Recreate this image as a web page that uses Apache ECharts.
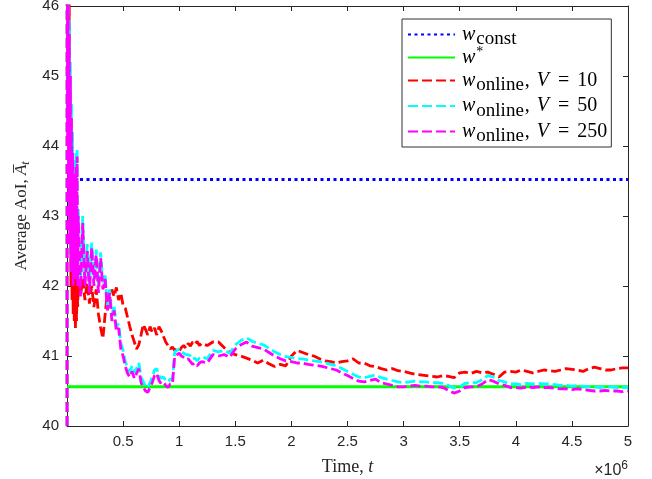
<!DOCTYPE html>
<html>
<head>
<meta charset="utf-8">
<script src="https://cdn.jsdelivr.net/npm/echarts@6/dist/echarts.min.js"></script>
<style>
html,body{margin:0;padding:0;background:#fff;}
#chart{width:652px;height:479px;}
</style>
</head>
<body>
<div id="chart"></div>
<script>
// ---- data (time in units of 10^6) ----
var tEarly = [0, 0.002, 0.005, 0.01, 0.015, 0.02, 0.025, 0.03, 0.035, 0.04, 0.045, 0.05, 0.055, 0.06, 0.065, 0.07, 0.075, 0.08, 0.085, 0.09, 0.095, 0.1];
var tMid = [0.12,0.14,0.16,0.18,0.2,0.22,0.24,0.26,0.28,0.3,0.32,0.34,0.36,0.38,0.4,0.42,0.44,0.46,0.48,0.5,0.52,0.54,0.56,0.58,0.6,0.62,0.64,0.66,0.68,0.7,0.72,0.74,0.76,0.78,0.8,0.82,0.84,0.86,0.88,0.9,0.92,0.94,0.96,0.98,1,1.02,1.04,1.06,1.08,1.1,1.12,1.14,1.16,1.18,1.2];
var tLate = [1.25,1.3,1.35,1.4,1.45,1.5,1.55,1.6,1.65,1.7,1.75,1.8,1.85,1.9,1.95,2,2.05,2.1,2.15,2.2,2.25,2.3,2.35,2.4,2.45,2.5,2.55,2.6,2.65,2.7,2.75,2.8,2.85,2.9,2.95,3,3.05,3.1,3.15,3.2,3.25,3.3,3.35,3.4,3.45,3.5,3.55,3.6,3.65,3.7,3.75,3.8,3.85,3.9,3.95,4,4.05,4.1,4.15,4.2,4.25,4.3,4.35,4.4,4.45,4.5,4.55,4.6,4.65,4.7,4.75,4.8,4.85,4.9,4.95,5];

var wConstValue = 43.52;
var wStarValue = 40.56;

var v10Early = [33, 56, 45.5, 47, 43.5, 46.2, 42.8, 44.8, 42.0, 43.5, 41.8, 43.0, 41.6, 42.4, 41.5, 42.2, 41.4, 41.9, 41.5, 42.1, 41.7, 42.0];
var v10Mid = [41.85,42.1,41.8,42.05,41.75,42.0,41.7,41.95,41.6,41.4,
  41.25,41.6,41.9,41.82,41.95,41.85,41.98,41.8,41.9,41.72,
  41.68,41.55,41.42,41.3,41.2,41.1,41.16,41.3,41.45,41.38,
  41.3,41.42,41.34,41.4,41.3,41.42,41.36,41.28,41.2,41.15,
  41.1,41.13,41.08,41.1,41.07,41.12,41.15,41.11,41.18,41.14,
  41.2,41.17,41.21,41.15,41.18];
var v10Late = [41.15,41.2,41.2,41.12,41.05,41.02,41.0,40.97,40.94,40.9,
  40.94,40.89,40.85,40.88,40.86,41.0,41.08,41.05,41.02,41.0,
  40.96,40.93,40.92,40.9,40.92,40.93,40.96,40.9,40.9,40.86,
  40.85,40.82,40.8,40.82,40.79,40.78,40.76,40.74,40.73,40.72,
  40.71,40.7,40.72,40.71,40.69,40.76,40.77,40.75,40.78,40.76,
  40.77,40.74,40.7,40.77,40.78,40.77,40.8,40.78,40.76,40.78,
  40.8,40.79,40.78,40.8,40.82,40.81,40.8,40.78,40.82,40.84,
  40.82,40.8,40.8,40.82,40.83,40.83];

var v50Early = [36, 53, 44.5, 47, 43.6, 45.8, 42.9, 45.2, 42.5, 44.6, 42.6, 44.2, 42.3, 43.8, 42.5, 43.6, 42.3, 43.9, 42.4, 43.95, 42.2, 43.1];
var v50Mid = [42.0,43.0,42.1,42.6,42.0,42.62,42.1,42.52,42.0,42.48,
  42.05,42.15,41.72,41.95,41.58,41.72,41.42,41.46,41.18,41.08,
  40.92,40.82,40.77,40.86,40.76,40.82,40.9,40.7,40.63,40.57,
  40.55,40.62,40.7,40.8,40.82,40.72,40.68,40.7,40.65,40.63,
  40.67,40.67,41.06,41.08,41.1,41.06,41.04,41.02,41.02,41.0,
  40.95,40.97,40.93,40.97,40.99];
var v50Late = [40.96,41.08,41.06,41.08,41.04,41.16,41.22,41.26,41.21,41.18,
  41.16,41.11,41.06,41.02,40.99,40.98,40.96,40.96,40.94,40.93,
  40.92,40.9,40.88,40.86,40.82,40.78,40.74,40.7,40.69,40.71,
  40.73,40.69,40.67,40.65,40.63,40.62,40.63,40.64,40.63,40.63,
  40.62,40.62,40.61,40.58,40.54,40.56,40.61,40.62,40.62,40.66,
  40.72,40.7,40.65,40.63,40.6,40.6,40.59,40.61,40.6,40.61,
  40.6,40.6,40.59,40.58,40.58,40.57,40.58,40.57,40.56,40.56,
  40.55,40.56,40.56,40.55,40.55,40.55];

var v250Early = [35, 52, 44.0, 46.8, 43.2, 45.6, 42.6, 45.0, 42.2, 44.4, 42.4, 43.9, 42.0, 43.6, 42.3, 43.4, 42.1, 43.7, 42.2, 43.85, 42.0, 43.0];
var v250Mid = [41.85,42.9,42.0,42.5,41.9,42.55,42.0,42.45,41.9,42.4,
  41.95,42.1,41.65,41.9,41.5,41.65,41.35,41.4,41.1,41.0,
  40.85,40.75,40.7,40.78,40.68,40.75,40.82,40.62,40.55,40.5,
  40.48,40.55,40.62,40.72,40.75,40.65,40.6,40.62,40.58,40.55,
  40.6,40.6,41.0,41.02,41.04,41.0,40.98,40.95,40.96,40.92,
  40.88,40.9,40.86,40.9,40.92];
var v250Late = [40.9,41.02,41.0,41.02,40.98,41.1,41.16,41.2,41.14,41.12,
  41.1,41.05,41.0,40.96,40.93,40.92,40.9,40.9,40.88,40.87,
  40.86,40.84,40.82,40.8,40.76,40.72,40.68,40.64,40.63,40.65,
  40.67,40.62,40.6,40.58,40.56,40.56,40.57,40.58,40.57,40.57,
  40.56,40.56,40.55,40.51,40.47,40.5,40.55,40.56,40.56,40.6,
  40.66,40.64,40.6,40.58,40.55,40.55,40.54,40.56,40.55,40.56,
  40.55,40.55,40.54,40.53,40.53,40.52,40.53,40.52,40.51,40.5,
  40.5,40.51,40.5,40.5,40.49,40.5];

var xTicks = [0, 0.5, 1, 1.5, 2, 2.5, 3, 3.5, 4, 4.5, 5]; // ×10^6
var yTicks = [40, 41, 42, 43, 44, 45, 46];
var legendNames = ['wconst', 'wstar', 'v10', 'v50', 'v250'];

// ---- build ----
var SCALE = 1e6;
var tAll = tEarly.concat(tMid, tLate);
function pairs(early, mid, late) {
  var v = early.concat(mid, late);
  return tAll.map(function (t, i) { return [t * SCALE, v[i]]; });
}
var xMax = xTicks[xTicks.length - 1] * SCALE;
var xStep = (xTicks[1] - xTicks[0]) * SCALE;

var axisColor = '#262626';
var tickFont = 'Liberation Sans';
var serif = 'Liberation Serif';

var legendRich = {
  i: { fontFamily: serif, fontStyle: 'italic', fontSize: 20, lineHeight: 23, color: '#000' },
  r: { fontFamily: serif, fontSize: 20, lineHeight: 23, color: '#000' },
  s: { fontFamily: serif, fontSize: 19, lineHeight: 13, padding: [10, 1, 0, 1], color: '#000' },
  c: { fontFamily: serif, fontSize: 20, lineHeight: 23, padding: [0, 7, 0, 0], color: '#000' },
  v: { fontFamily: serif, fontStyle: 'italic', fontSize: 20, lineHeight: 23, padding: [0, 9, 0, 0], color: '#000' },
  e: { fontFamily: serif, fontSize: 20, lineHeight: 23, padding: [0, 8, 0, 0], color: '#000' },
  p: { fontFamily: serif, fontSize: 14, lineHeight: 13, padding: [0, 0, 10, 1], color: '#000' }
};
var legendLabels = {
  wconst: '{i|w}{s|const}',
  wstar: '{i|w}{p|*}',
  v10: '{i|w}{s|online}{c|,}{v|V}{e|=}{r|10}',
  v50: '{i|w}{s|online}{c|,}{v|V}{e|=}{r|50}',
  v250: '{i|w}{s|online}{c|,}{v|V}{e|=}{r|250}'
};

var chart = echarts.init(document.getElementById('chart'), null, { renderer: 'canvas' });

var commonX = {
  type: 'value', min: 0, max: xMax, interval: xStep,
  splitLine: { show: false },
  axisLine: { show: true, onZero: false, lineStyle: { color: axisColor, width: 1 } },
  axisTick: { show: true, inside: true, length: 5, lineStyle: { color: axisColor } }
};
var commonY = {
  type: 'value', min: yTicks[0], max: yTicks[yTicks.length - 1], interval: 1,
  splitLine: { show: false },
  axisLine: { show: true, onZero: false, lineStyle: { color: axisColor, width: 1 } },
  axisTick: { show: true, inside: true, length: 5, lineStyle: { color: axisColor } }
};

var option = {
  animation: false,
  backgroundColor: '#fff',
  grid: { left: 67, right: 24, top: 6, bottom: 53, outerBoundsMode: 'none', containLabel: false },
  xAxis: [
    Object.assign({}, commonX, {
      position: 'bottom',
      name: 'Time, {it|t}',
      nameLocation: 'middle',
      nameGap: 32,
      nameTextStyle: {
        fontFamily: serif, fontSize: 18, color: axisColor,
        rich: { it: { fontFamily: serif, fontStyle: 'italic', fontSize: 18, color: axisColor } }
      },
      axisLabel: {
        show: true, margin: 8, showMinLabel: false,
        fontFamily: tickFont, fontSize: 15, color: axisColor,
        formatter: function (v) { return v === 0 ? '' : String(+(v / SCALE).toFixed(1)); }
      }
    }),
    Object.assign({}, commonX, { position: 'top', axisLabel: { show: false } })
  ],
  yAxis: [
    Object.assign({}, commonY, {
      position: 'left',
      name: 'Average AoI, {it|A\u0305}{sub|t}',
      nameLocation: 'middle',
      nameGap: 34,
      nameTextStyle: {
        fontFamily: serif, fontSize: 17, color: axisColor,
        rich: {
          it: { fontFamily: serif, fontStyle: 'italic', fontSize: 17, color: axisColor },
          sub: { fontFamily: serif, fontStyle: 'italic', fontSize: 12, padding: [8, 0, 0, 0], color: axisColor }
        }
      },
      axisLabel: { show: true, margin: 8, fontFamily: tickFont, fontSize: 15, color: axisColor }
    }),
    Object.assign({}, commonY, { position: 'right', axisLabel: { show: false } })
  ],
  legend: {
    show: true,
    orient: 'vertical',
    left: 402,
    top: 19,
    padding: [1, 4, 1, 5],
    itemGap: -3.5,
    itemWidth: 47,
    itemHeight: 10,
    backgroundColor: '#fff',
    borderColor: '#303030',
    borderWidth: 1,
    selectedMode: false,
    data: legendNames,
    itemStyle: { opacity: 0 },
    textStyle: { rich: legendRich, padding: [0, 0, 0, 2] },
    formatter: function (name) { return legendLabels[name]; }
  },
  graphic: [
    {
      type: 'text', right: 24, top: 460,
      style: {
        text: '{a|\u00d710}{b|6}',
        rich: {
          a: { fontFamily: tickFont, fontSize: 16, fill: axisColor, lineHeight: 18 },
          b: { fontFamily: tickFont, fontSize: 12, fill: axisColor, padding: [0, 0, 9, 0] }
        }
      }
    }
  ],
  series: [
    {
      name: 'wconst', type: 'line', symbol: 'none', z: 2,
      data: [[0, wConstValue], [xMax, wConstValue]],
      lineStyle: { color: '#0000ff', width: 3, type: [3, 3.5] },
      itemStyle: { color: '#0000ff' }
    },
    {
      name: 'wstar', type: 'line', symbol: 'none', z: 2,
      data: [[0, wStarValue], [xMax, wStarValue]],
      lineStyle: { color: '#00ff00', width: 3, type: 'solid' },
      itemStyle: { color: '#00ff00' }
    },
    {
      name: 'v10', type: 'line', symbol: 'none', z: 3,
      data: pairs(v10Early, v10Mid, v10Late),
      lineStyle: { color: '#ff0000', width: 2.8, type: [10, 4] },
      itemStyle: { color: '#ff0000' }
    },
    {
      name: 'v50', type: 'line', symbol: 'none', z: 4,
      data: pairs(v50Early, v50Mid, v50Late),
      lineStyle: { color: '#00ffff', width: 2.8, type: [10, 4] },
      itemStyle: { color: '#00ffff' }
    },
    {
      name: 'v250', type: 'line', symbol: 'none', z: 5,
      data: pairs(v250Early, v250Mid, v250Late),
      lineStyle: { color: '#ff00ff', width: 2.8, type: [10, 4] },
      itemStyle: { color: '#ff00ff' }
    }
  ]
};
chart.setOption(option);
</script>
</body>
</html>
